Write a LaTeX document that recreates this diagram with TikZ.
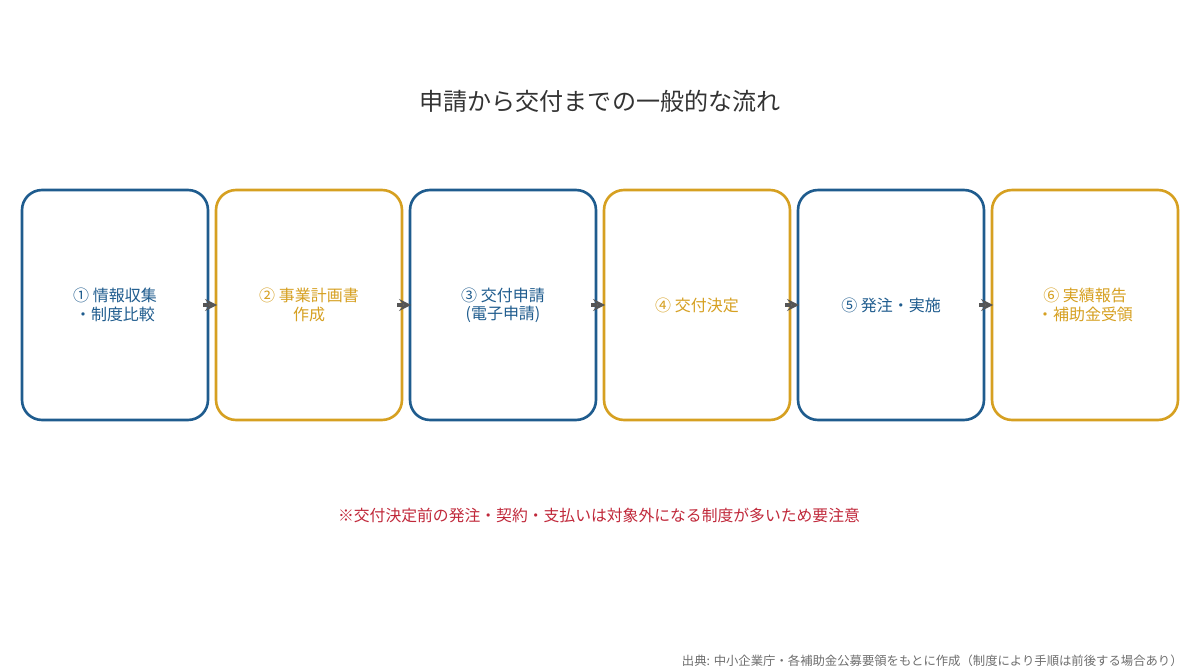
\documentclass[tikz,border=0pt]{standalone}
\usepackage{fontspec}
\setmainfont{Noto Sans CJK JP}
\usepackage{tikz}
\usetikzlibrary{arrows}
\definecolor{hojoblue}{HTML}{1F5C8E}
\definecolor{hojogold}{HTML}{D6A021}
\definecolor{hojored}{HTML}{C0283A}
\definecolor{hojogray}{HTML}{555555}
\tikzset{
  stepbox/.style={draw, line width=1.5pt, rounded corners=0.4cm, fill=white,
    minimum width=3.72cm, minimum height=4.6cm, align=center, font=\fontsize{9.1}{10.4}\selectfont},
  bluebox/.style={stepbox, draw=hojoblue, text=hojoblue},
  goldbox/.style={stepbox, draw=hojogold, text=hojogold},
  flow/.style={-stealth, line width=2pt, hojogray, shorten <=-0.12cm, shorten >=-0.05cm}
}
\begin{document}
\begin{tikzpicture}[x=0.02cm, y=-0.02cm]
	\useasboundingbox (0,0) rectangle (1200,672);
	\node[text=black!80, font=\fontsize{13.7}{16}\selectfont] (title) at (600,101) {申請から交付までの一般的な流れ};
	\node[bluebox] (s1) at (115,305) {① 情報収集\\・制度比較};
	\node[goldbox] (s2) at (309,305) {② 事業計画書\\作成};
	\node[bluebox] (s3) at (503,305) {③ 交付申請\\(電子申請)};
	\node[goldbox] (s4) at (697,305) {④ 交付決定};
	\node[bluebox] (s5) at (891,305) {⑤ 発注・実施};
	\node[goldbox] (s6) at (1085,305) {⑥ 実績報告\\・補助金受領};
	\draw[flow] (s1.east) -- (s2.west);
	\draw[flow] (s2.east) -- (s3.west);
	\draw[flow] (s3.east) -- (s4.west);
	\draw[flow] (s4.east) -- (s5.west);
	\draw[flow] (s5.east) -- (s6.west);
	\node[text=hojored, font=\fontsize{9}{11}\selectfont] (note) at (599,515) {※交付決定前の発注・契約・支払いは対象外になる制度が多いため要注意};
	\node[anchor=east, inner sep=0pt, text=hojogray!85, font=\fontsize{7.03}{8}\selectfont] (src) at (1183,661) {出典: 中小企業庁・各補助金公募要領をもとに作成（制度により手順は前後する場合あり）};
\end{tikzpicture}
\end{document}
